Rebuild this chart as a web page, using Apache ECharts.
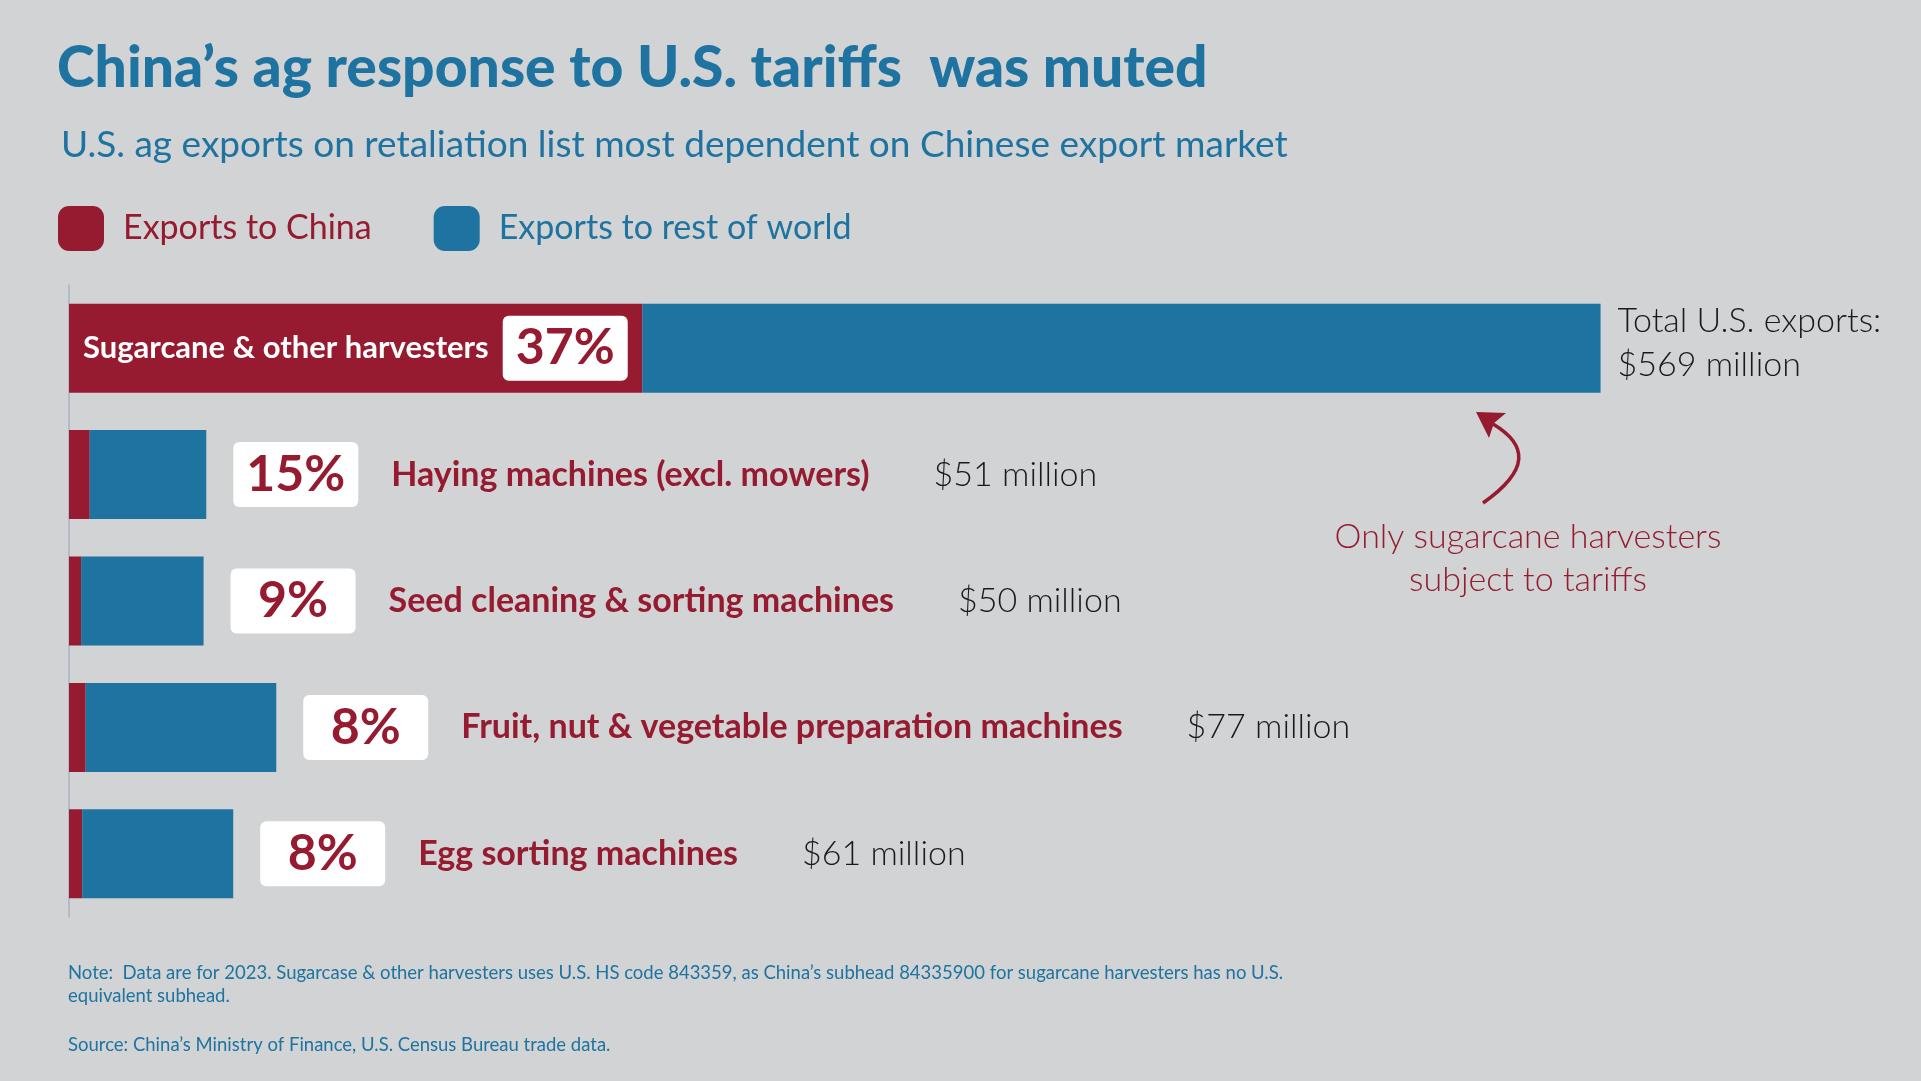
<!DOCTYPE html>
<html>
<head>
<meta charset="utf-8">
<script src="https://cdn.jsdelivr.net/npm/echarts@6/dist/echarts.min.js"></script>
<style>
html,body{margin:0;padding:0;background:#d1d3d4;}
#chart{width:1921px;height:1081px;}
</style>
</head>
<body>
<div id="chart"></div>
<script>
// ---- data (US$ million, 2023) ----
const categories = ['Sugarcane & other harvesters', 'Haying machines (excl. mowers)', 'Seed cleaning & sorting machines', 'Fruit, nut & vegetable preparation machines', 'Egg sorting machines'];
const totalExports = [569, 51, 50, 77, 61];
const chinaSharePct = [37, 15, 9, 8, 8];
const exportsToChina = [213, 7.7, 4.5, 6.2, 4.9];
const exportsToRest = [356, 43.3, 45.5, 70.8, 56.1];
const seriesNames = ['Exports to China', 'Exports to rest of world'];

const RED = '#961b30', BLUE = '#1e73a0', BG = '#d1d3d4', INK = '#1a1a1a';
const FONT = 'Lato';

const chart = echarts.init(document.getElementById('chart'));

const richStyles = {
  pct: {backgroundColor: '#fff', borderRadius: 6, width: 125, height: 65, lineHeight: 65, align: 'center',
        fontFamily: FONT, fontWeight: 700, fontSize: 50, color: RED},
  name: {fontFamily: FONT, fontWeight: 700, fontSize: 34, color: RED, padding: [0, 0, 0, 33]},
  val: {fontFamily: FONT, fontWeight: 300, fontSize: 34, color: INK, padding: [0, 0, 0, 64]},
  tot: {fontFamily: FONT, fontWeight: 300, fontSize: 34, color: INK, lineHeight: 44},
  sname: {fontFamily: FONT, fontWeight: 700, fontSize: 31, color: '#fff', padding: [0, 14, 0, 0]},
  spct: {backgroundColor: '#fff', borderRadius: 6, width: 125, height: 65, lineHeight: 65, align: 'center',
         fontFamily: FONT, fontWeight: 700, fontSize: 50, color: RED}
};

const option = {
  backgroundColor: BG,
  animation: false,
  title: [
    {text: 'China’s ag response to U.S. tariffs  was muted', left: 52, top: 35,
     textStyle: {fontFamily: FONT, fontWeight: 900, fontSize: 57, color: BLUE}},
    {text: 'U.S. ag exports on retaliation list most dependent on Chinese export market', left: 56, top: 122,
     textStyle: {fontFamily: FONT, fontWeight: 400, fontSize: 37, color: BLUE}},
    {text: 'Note:  Data are for 2023. Sugarcase & other harvesters uses U.S. HS code 843359, as China’s subhead 84335900 for sugarcane harvesters has no U.S.\nequivalent subhead.',
     left: 63, top: 956, textStyle: {fontFamily: FONT, fontWeight: 400, fontSize: 18.5, lineHeight: 23.5, color: BLUE}},
    {text: 'Source: China’s Ministry of Finance, U.S. Census Bureau trade data.', left: 63, top: 1031,
     textStyle: {fontFamily: FONT, fontWeight: 400, fontSize: 18.5, color: BLUE}}
  ],
  legend: {
    left: 53, top: 201, itemWidth: 46, itemHeight: 45, itemGap: 62, icon: 'roundRect',
    textStyle: {fontFamily: FONT, fontWeight: 400, fontSize: 34, padding: [0, 0, 0, 14]},
    data: [
      {name: seriesNames[0], textStyle: {color: RED}},
      {name: seriesNames[1], textStyle: {color: BLUE}}
    ],
    selectedMode: false
  },
  grid: {left: 69, top: 285, height: 632, right: 237},
  xAxis: {type: 'value', min: 0, max: 600, show: false},
  yAxis: {type: 'category', data: categories, inverse: true,
    axisLine: {show: true, lineStyle: {color: '#a7b5c4', width: 1.5}},
    axisTick: {show: false}, axisLabel: {show: false}, splitLine: {show: false}},
  series: [
    {name: seriesNames[0], type: 'bar', stack: 'total', barWidth: 89, itemStyle: {color: RED},
     data: exportsToChina.map((v, i) => ({value: v, label: i === 0 ? {show: true} : {show: false}})),
     label: {position: 'insideLeft', distance: 14, rich: richStyles,
       formatter: p => '{sname|' + categories[p.dataIndex] + '}{spct|' + chinaSharePct[p.dataIndex] + '%}'}},
    {name: seriesNames[1], type: 'bar', stack: 'total', barWidth: 89, itemStyle: {color: BLUE},
     data: exportsToRest.map((v, i) => (i === 0 ? {value: v, label: {offset: [0, -5], distance: 17}} : v)),
     label: {show: true, position: 'right', distance: 27, rich: richStyles,
       formatter: p => {
         const i = p.dataIndex;
         if (i === 0) return '{tot|Total U.S. exports:}\n{tot|$' + totalExports[i] + ' million}';
         return '{pct|' + chinaSharePct[i] + '%}{name|' + categories[i] + '}{val|$' + totalExports[i] + ' million}';
       }}}
  ],
  graphic: [
    {type: 'bezierCurve', silent: true,
     shape: {x1: 1483, y1: 503, cpx1: 1530, cpy1: 470, cpx2: 1528, cpy2: 445, x2: 1493, y2: 424},
     style: {stroke: RED, lineWidth: 3.5, fill: null}},
    {type: 'polygon', silent: true,
     shape: {points: [[1476, 412], [1506, 413], [1494, 423], [1489, 438]]},
     style: {fill: RED}},
    {type: 'text', silent: true, x: 1528, y: 516,
     style: {text: 'Only sugarcane harvesters\nsubject to tariffs', textAlign: 'center', textVerticalAlign: 'top',
       fontFamily: FONT, fontWeight: 300, fontSize: 34, lineHeight: 43, fill: RED}}
  ]
};
chart.setOption(option);
</script>
</body>
</html>
